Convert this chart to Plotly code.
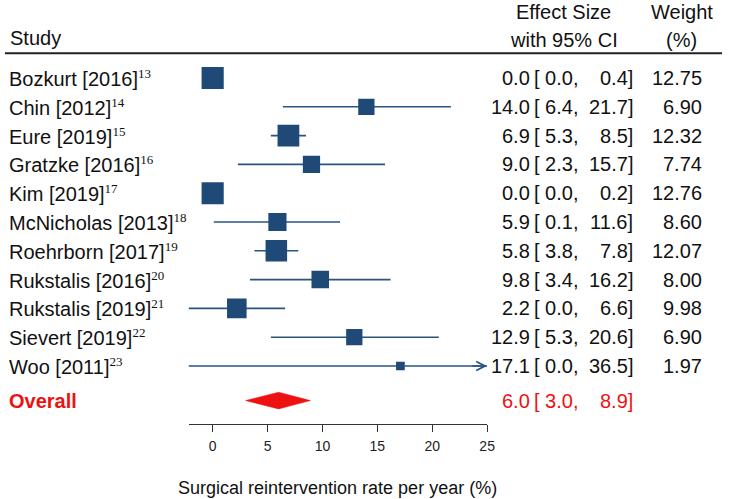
import plotly.graph_objects as go

# ---------------- data ----------------
studies = ["Bozkurt [2016]", "Chin [2012]", "Eure [2019]", "Gratzke [2016]", "Kim [2019]",
           "McNicholas [2013]", "Roehrborn [2017]", "Rukstalis [2016]", "Rukstalis [2019]",
           "Sievert [2019]", "Woo [2011]"]
refs = [13, 14, 15, 16, 17, 18, 19, 20, 21, 22, 23]
est = [0.0, 14.0, 6.9, 9.0, 0.0, 5.9, 5.8, 9.8, 2.2, 12.9, 17.1]
ci_lo = [0.0, 6.4, 5.3, 2.3, 0.0, 0.1, 3.8, 3.4, 0.0, 5.3, 0.0]
ci_hi = [0.4, 21.7, 8.5, 15.7, 0.2, 11.6, 7.8, 16.2, 6.6, 20.6, 36.5]
ci_lo_drawn = [-0.4, 6.4, 5.3, 2.3, -0.2, 0.1, 3.8, 3.4, -2.2, 5.3, -2.2]  # lower whisker ends as drawn
weights = [12.75, 6.90, 12.32, 7.74, 12.76, 8.60, 12.07, 8.00, 9.98, 6.90, 1.97]
overall_label = "Overall"
overall_est, overall_lo, overall_hi = 6.0, 3.0, 8.9
x_ticks = [0, 5, 10, 15, 20, 25]
x_title = "Surgical reintervention rate per year (%)"

# ---------------- style / layout ----------------
W, H = 735, 499
FONT = "Liberation Sans, Arial, sans-serif"
FS = 20
BLUE = "#1f4a78"
LINE_BLUE = "#2a5580"
RED = "#ee1111"
VRED = "#c8102e"
XMIN, XMAX = -2.2, 25

def px_x(p):
    return max(p, 0) / W

def px_y(p):
    return 1 - p / H

n = len(studies)
rows = list(range(n))
y_overall = n + 0.2
row_top_px, row_gap_px = 78.0, 28.8
axis_px, header_px = 424.3, 53.3
y_rng_bottom = (axis_px - row_top_px) / row_gap_px
y_rng_top = (header_px - row_top_px) / row_gap_px

fig = go.Figure()

# CI whiskers
lx, ly = [], []
for i in rows:
    lx += [max(ci_lo_drawn[i], XMIN), min(ci_hi[i], XMAX), None]
    ly += [i, i, None]
fig.add_trace(go.Scatter(x=lx, y=ly, mode="lines", line=dict(color=LINE_BLUE, width=1.6),
                         hoverinfo="skip", showlegend=False))

# squares
fig.add_trace(go.Scatter(x=est, y=rows, mode="markers",
                         marker=dict(symbol="square", color=BLUE, opacity=1,
                                     size=[6.2 * (w ** 0.5) for w in weights],
                                     line=dict(width=0)),
                         showlegend=False))

# diamond
dh = 0.29
fig.add_trace(go.Scatter(x=[overall_lo, overall_est, overall_hi, overall_est, overall_lo],
                         y=[y_overall, y_overall - dh, y_overall, y_overall + dh, y_overall],
                         mode="lines", fill="toself", fillcolor=RED,
                         line=dict(color=RED, width=0.5), showlegend=False))

# overall vertical line
fig.add_vline(x=overall_est, line=dict(color=VRED, width=1.2), layer="below")

ann = []
# arrows for CIs beyond axis
for i in rows:
    if ci_hi[i] > XMAX:
        ann.append(dict(x=XMAX, y=i, xref="x", yref="y", ax=XMAX - 1.5, ay=i, axref="x", ayref="y",
                        showarrow=True, arrowhead=5, arrowsize=1.1, arrowwidth=1.6,
                        arrowcolor=LINE_BLUE, text="", standoff=0))

# headers
for txt, xp, yp, anc in [("Study", 8, 38, "left"), ("Effect Size", 570, 12, "center"),
                         ("with 95% CI", 570, 39.5, "center"), ("Weight", 689, 12, "center"),
                         ("(%)", 689, 39.5, "center")]:
    ann.append(dict(x=px_x(xp), y=px_y(yp), xref="paper", yref="paper", text=txt,
                    xanchor=anc, yanchor="middle", showarrow=False, font=dict(size=FS)))

def row_text(yv, est_v, lo_v, hi_v, w_v, color):
    out = []
    out.append(dict(x=px_x(537), y=yv, xref="paper", yref="y", text=f"{est_v:.1f}",
                    xanchor="right", yanchor="middle", showarrow=False, borderpad=0,
                    font=dict(size=FS, color=color)))
    out.append(dict(x=px_x(539), y=yv, xref="paper", yref="y", text=f"[ {lo_v:.1f},",
                    xanchor="left", yanchor="middle", showarrow=False, borderpad=0,
                    font=dict(size=FS, color=color)))
    out.append(dict(x=px_x(641), y=yv, xref="paper", yref="y", text=f"{hi_v:.1f}]",
                    xanchor="right", yanchor="middle", showarrow=False, borderpad=0,
                    font=dict(size=FS, color=color)))
    if w_v is not None:
        out.append(dict(x=px_x(711), y=yv, xref="paper", yref="y", text=f"{w_v:.2f}",
                        xanchor="right", yanchor="middle", showarrow=False, borderpad=0,
                        font=dict(size=FS, color=color)))
    return out

for i in rows:
    lab = (f"{studies[i]}<sup><span style=\"font-family:Liberation Serif;font-size:13px\">"
           f"{refs[i]}</span></sup>")
    ann.append(dict(x=px_x(8), y=i, xref="paper", yref="y", text=lab, xanchor="left",
                    yanchor="middle", showarrow=False, borderpad=0, font=dict(size=FS)))
    ann += row_text(i, est[i], ci_lo[i], ci_hi[i], weights[i], "#111111")

ann.append(dict(x=px_x(8), y=y_overall, xref="paper", yref="y", text=f"<b>{overall_label}</b>",
                xanchor="left", yanchor="middle", showarrow=False, borderpad=0,
                font=dict(size=FS, color=RED)))
ann += row_text(y_overall, overall_est, overall_lo, overall_hi, None, RED)

ann.append(dict(x=px_x(341), y=px_y(487.5), xref="paper", yref="paper", text=x_title,
                xanchor="center", yanchor="middle", showarrow=False, font=dict(size=18)))

fig.update_layout(
    width=W, height=H, margin=dict(l=0, r=0, t=0, b=0),
    paper_bgcolor="white", plot_bgcolor="white",
    font=dict(family=FONT, color="#111111"),
    annotations=ann,
    shapes=[dict(type="line", xref="paper", yref="paper", x0=px_x(5), x1=px_x(730),
                 y0=px_y(header_px), y1=px_y(header_px), line=dict(color="#222222", width=2))],
    xaxis=dict(domain=[px_x(215 + 11.1 * XMIN), px_x(215 + 11.1 * XMAX)], range=[XMIN, XMAX],
               showgrid=False, zeroline=False, showline=True, linecolor="#333333", linewidth=1.2,
               ticks="outside", ticklen=7, tickwidth=1.2, tickcolor="#333333",
               tickvals=x_ticks, ticktext=[str(t) for t in x_ticks],
               tickfont=dict(size=14, color="#222222"), ticklabelstandoff=2, fixedrange=True),
    yaxis=dict(domain=[px_y(axis_px), px_y(header_px)], range=[y_rng_bottom, y_rng_top],
               visible=False, showgrid=False, zeroline=False, fixedrange=True),
    showlegend=False,
)

fig.write_html("out.html", config={"displayModeBar": False},
               post_script="document.body.style.margin='0px';document.body.style.padding='0px';")
